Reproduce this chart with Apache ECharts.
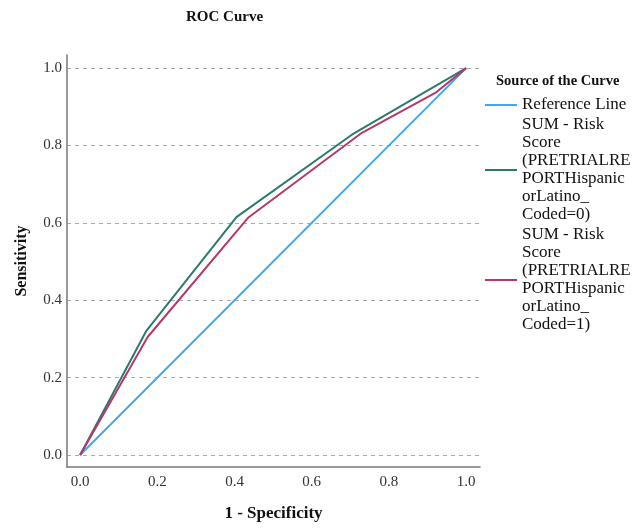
<!DOCTYPE html>
<html>
<head>
<meta charset="utf-8">
<script src="https://cdn.jsdelivr.net/npm/echarts@6/dist/echarts.min.js"></script>
<style>html,body{margin:0;padding:0;background:#fff}#c{width:637px;height:531px}</style>
</head>
<body>
<div id="c"></div>
<script>
const seriesNames = [
  "Reference Line",
  "SUM - Risk Score (PRETRIALREPORTHispanicorLatino_Coded=0)",
  "SUM - Risk Score (PRETRIALREPORTHispanicorLatino_Coded=1)"
];
const legendLabels = [
  "Reference Line",
  "SUM - Risk\nScore\n(PRETRIALRE\nPORTHispanic\norLatino_\nCoded=0)",
  "SUM - Risk\nScore\n(PRETRIALRE\nPORTHispanic\norLatino_\nCoded=1)"
];
const refX = [0, 1];
const refY = [0, 1];
const coded0X = [0, 0.171, 0.405, 0.704, 1];
const coded0Y = [0, 0.320, 0.615, 0.828, 1];
const coded1X = [0, 0.175, 0.436, 0.730, 0.920, 1];
const coded1Y = [0, 0.305, 0.614, 0.833, 0.936, 1];
const tickValues = [0, 0.2, 0.4, 0.6, 0.8, 1.0];
const colors = ["#40a8ec", "#2b7a70", "#b5386b"];

const serif = "'Liberation Serif','Times New Roman',Times,serif";
const zip = (xs, ys) => xs.map((x, i) => [x, ys[i]]);

const chart = echarts.init(document.getElementById('c'), null, {renderer: 'canvas'});
chart.setOption({
  animation: false,
  color: colors,
  title: [
    {text: 'ROC Curve', left: 181, top: 5,
     textStyle: {fontFamily: serif, fontSize: 15, fontWeight: 'bold', color: '#111'}},
    {text: 'Source of the Curve', left: 491, top: 69,
     textStyle: {fontFamily: serif, fontSize: 14.5, fontWeight: 'bold', color: '#111'}}
  ],
  grid: {left: 67, right: 157, top: 55, bottom: 64, containLabel: false},
  xAxis: {
    type: 'value', min: -0.034, max: 1.036,
    name: '1 - Specificity', nameLocation: 'middle', nameGap: 38,
    nameTextStyle: {fontFamily: serif, fontSize: 17, fontWeight: 'bold', color: '#111'},
    axisLine: {show: true, onZero: false, lineStyle: {color: '#777', width: 1.5}},
    axisTick: {show: false, customValues: tickValues},
    axisLabel: {customValues: tickValues, formatter: v => v.toFixed(1), margin: 8,
      fontFamily: serif, fontSize: 15, color: '#333'},
    splitLine: {show: false}
  },
  yAxis: {
    type: 'value', min: -0.031, max: 1.034,
    name: 'Sensitivity', nameLocation: 'middle', nameGap: 37, nameRotate: 90,
    nameTextStyle: {fontFamily: serif, fontSize: 16, fontWeight: 'bold', color: '#111'},
    axisLine: {show: true, onZero: false, lineStyle: {color: '#777', width: 1.5}},
    axisTick: {show: false, customValues: tickValues},
    axisLabel: {customValues: tickValues, formatter: v => v.toFixed(1), margin: 5,
      fontFamily: serif, fontSize: 15, color: '#333'},
    splitLine: {show: true, lineStyle: {color: '#aaa', type: [4, 4], width: 1}}
  },
  legend: {
    orient: 'vertical', left: 480, top: 91, itemWidth: 32, itemHeight: 2, itemGap: 2,
    icon: 'rect',
    data: seriesNames,
    formatter: name => legendLabels[seriesNames.indexOf(name)],
    textStyle: {fontFamily: serif, fontSize: 17, lineHeight: 18, color: '#111'}
  },
  series: [
    {name: seriesNames[0], type: 'line', data: zip(refX, refY), symbol: 'none',
     lineStyle: {width: 2, color: colors[0]}, itemStyle: {color: colors[0]}, z: 2},
    {name: seriesNames[1], type: 'line', data: zip(coded0X, coded0Y), symbol: 'none',
     lineStyle: {width: 2, color: colors[1]}, itemStyle: {color: colors[1]}, z: 3},
    {name: seriesNames[2], type: 'line', data: zip(coded1X, coded1Y), symbol: 'none',
     lineStyle: {width: 2, color: colors[2]}, itemStyle: {color: colors[2]}, z: 4}
  ]
});
</script>
</body>
</html>
